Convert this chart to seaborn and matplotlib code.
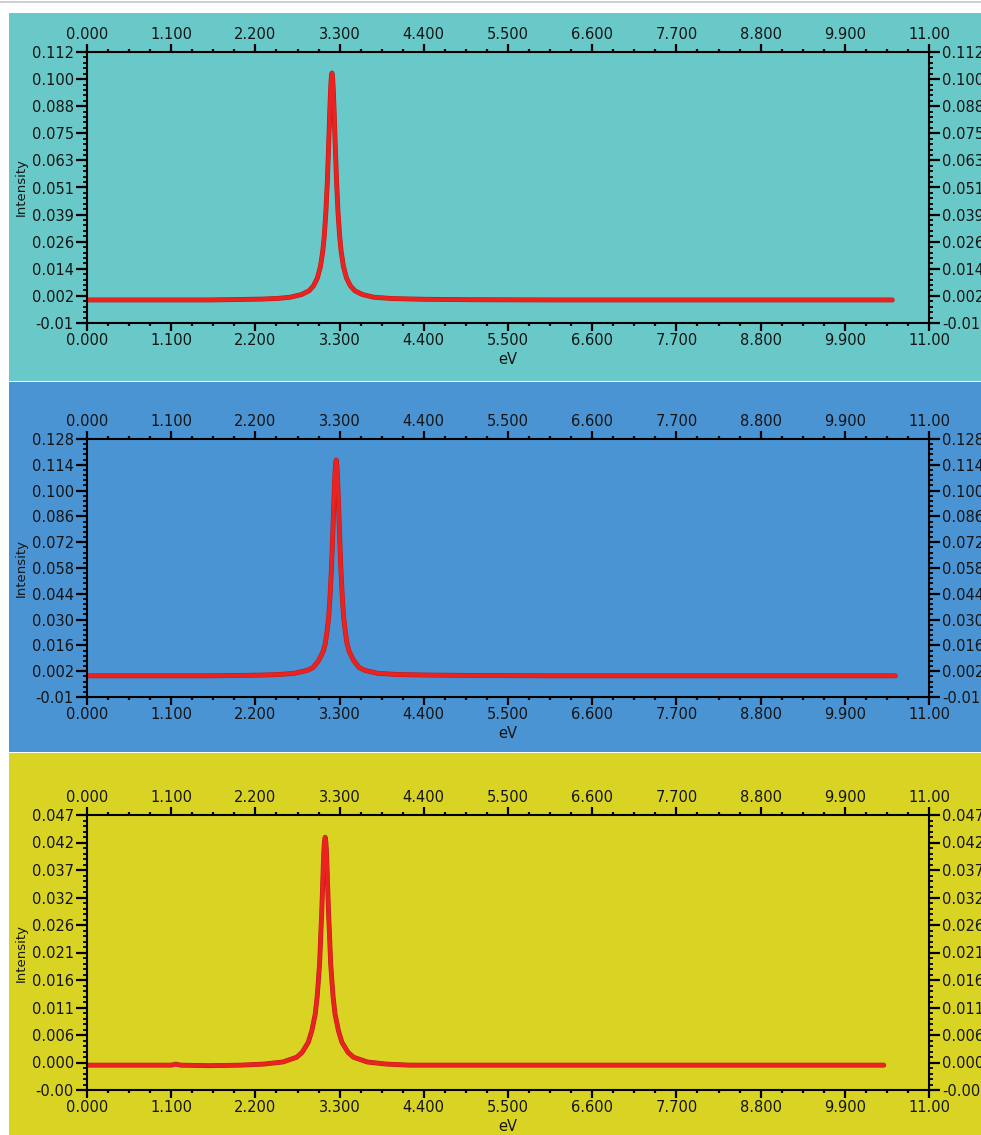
import numpy as np
import pandas as pd
import seaborn as sns
import matplotlib
matplotlib.use("Agg")
import matplotlib.pyplot as plt
from matplotlib.ticker import AutoMinorLocator
from matplotlib.patches import Rectangle
import matplotlib.patheffects as pe

# ---------------- data ----------------
x_tick_values = [0.0, 1.1, 2.2, 3.3, 4.4, 5.5, 6.6, 7.7, 8.8, 9.9, 11.0]
x_tick_labels = ["0.000", "1.100", "2.200", "3.300", "4.400", "5.500",
                 "6.600", "7.700", "8.800", "9.900", "11.00"]

# panel 1 (cyan)
ev1 = [0.00, 0.40, 0.80, 1.20, 1.60, 2.00, 2.30, 2.50, 2.65, 2.80, 2.90, 2.96,
       3.01, 3.05, 3.08, 3.10, 3.12, 3.14, 3.156, 3.17, 3.18, 3.19, 3.20, 3.21,
       3.22, 3.23, 3.244, 3.26, 3.28, 3.30, 3.32, 3.35, 3.39, 3.44, 3.50, 3.60,
       3.75, 4.00, 4.40, 5.00, 6.00, 7.00, 8.00, 9.00, 10.00, 10.52]
int1 = [0.0002, 0.0002, 0.0002, 0.0002, 0.0002, 0.0004, 0.0006, 0.0009, 0.0014,
        0.0026, 0.0043, 0.0066, 0.0101, 0.0153, 0.0221, 0.0292, 0.0394, 0.0538,
        0.0690, 0.0836, 0.0931, 0.1000, 0.1025, 0.1000, 0.0931, 0.0836, 0.0690,
        0.0538, 0.0394, 0.0292, 0.0221, 0.0153, 0.0101, 0.0066, 0.0043, 0.0026,
        0.0014, 0.0008, 0.0005, 0.0003, 0.0002, 0.0002, 0.0002, 0.0002, 0.0002,
        0.0002]
y_labels1 = ["0.112", "0.100", "0.088", "0.075", "0.063", "0.051", "0.039",
             "0.026", "0.014", "0.002", "-0.01"]

# panel 2 (blue)
ev2 = [0.00, 0.40, 0.80, 1.20, 1.60, 2.00, 2.30, 2.50, 2.70, 2.875, 2.955, 3.025,
       3.085, 3.113, 3.135, 3.157, 3.175, 3.195, 3.211, 3.225, 3.235, 3.245, 3.255,
       3.265, 3.275, 3.285, 3.299, 3.315, 3.335, 3.353, 3.375, 3.397, 3.425, 3.485,
       3.555, 3.635, 3.805, 4.055, 4.455, 5.00, 6.00, 7.00, 8.00, 9.00, 10.00, 10.56]
int2 = [-0.0005, -0.0005, -0.0005, -0.0005, -0.0005, -0.0003, -0.0001, 0.0002,
        0.0008, 0.0024, 0.0040, 0.0077, 0.0127, 0.0170, 0.0233, 0.0311, 0.0425,
        0.0590, 0.0769, 0.0938, 0.1052, 0.1135, 0.1166, 0.1135, 0.1052, 0.0938,
        0.0769, 0.0590, 0.0425, 0.0311, 0.0233, 0.0170, 0.0127, 0.0077, 0.0040,
        0.0024, 0.0008, 0.0002, -0.0001, -0.0003, -0.0005, -0.0005, -0.0005,
        -0.0005, -0.0005, -0.0005]
y_labels2 = ["0.128", "0.114", "0.100", "0.086", "0.072", "0.058", "0.044",
             "0.030", "0.016", "0.002", "-0.01"]

# panel 3 (yellow)
ev3 = [0.00, 0.40, 0.80, 1.10, 1.16, 1.22, 1.60, 2.01, 2.31, 2.56, 2.74, 2.81,
       2.89, 2.937, 2.981, 3.006, 3.021, 3.039, 3.051, 3.067, 3.081, 3.091, 3.101,
       3.111, 3.121, 3.131, 3.141, 3.155, 3.171, 3.183, 3.201, 3.216, 3.241, 3.285,
       3.331, 3.411, 3.481, 3.661, 3.911, 4.21, 5.00, 6.00, 7.00, 8.00, 9.00, 10.41]
int3 = [-0.0001, -0.0001, -0.0001, -0.0001, 0.0001, -0.0001, -0.0002, -0.0001,
        0.0001, 0.0005, 0.0014, 0.0023, 0.0042, 0.0064, 0.0095, 0.0127, 0.0155,
        0.0192, 0.0235, 0.0290, 0.0350, 0.0395, 0.0420, 0.0430, 0.0420, 0.0395,
        0.0350, 0.0290, 0.0235, 0.0192, 0.0155, 0.0127, 0.0095, 0.0064, 0.0042,
        0.0023, 0.0014, 0.0005, 0.0001, -0.0001, -0.0001, -0.0001, -0.0001,
        -0.0001, -0.0001, -0.0001]
y_labels3 = ["0.047", "0.042", "0.037", "0.032", "0.026", "0.021", "0.016",
             "0.011", "0.006", "0.000", "-0.00"]

# ---------------- layout / style ----------------
W, H = 981, 1135
fig = plt.figure(figsize=(W / 100, H / 100), dpi=100)
fig.patch.set_facecolor("white")


def fx(px):
    return px / W


def fy(py):
    return 1 - py / H


def bg_rect(x0, y0, x1, y1, color):
    fig.add_artist(Rectangle((fx(x0), fy(y1)), fx(x1) - fx(x0), fy(y0) - fy(y1),
                             transform=fig.transFigure, facecolor=color,
                             edgecolor="none", zorder=-5))


bg_rect(0, 1, W, 2.6, "#cfcfcf")

panels = [
    dict(ev=ev1, it=int1, labels=y_labels1, ylim=(-0.0102, 0.112), bg="#68c9c8",
         bg_box=(9, 13, W, 381.2), ax_box=(87, 52, 929, 323)),
    dict(ev=ev2, it=int2, labels=y_labels2, ylim=(-0.012, 0.128), bg="#4a94d4",
         bg_box=(9, 382, W, 752), ax_box=(87, 439, 929, 697)),
    dict(ev=ev3, it=int3, labels=y_labels3, ylim=(-0.0048, 0.0472), bg="#d9d423",
         bg_box=(9, 753.2, W, H), ax_box=(87, 815, 929, 1090)),
]

text_color = "#141414"
line_color = "#ea2320"

for p in panels:
    bg_rect(*p["bg_box"], p["bg"])
    x0, y0, x1, y1 = p["ax_box"]
    ax = fig.add_axes([fx(x0), fy(y1), fx(x1) - fx(x0), fy(y0) - fy(y1)])
    ax.set_facecolor(p["bg"])

    df = pd.DataFrame({"eV": p["ev"], "Intensity": p["it"]})
    sns.lineplot(data=df, x="eV", y="Intensity", ax=ax, color=line_color,
                 linewidth=2.8, sort=False, estimator=None)
    for ln in ax.lines:
        ln.set_path_effects([pe.Stroke(linewidth=3.5, foreground="#b51a1a"),
                             pe.Normal()])
        ln.set_solid_capstyle("round")

    ax.set_xlim(0, 11)
    ax.set_xticks(x_tick_values)
    ax.set_xticklabels(x_tick_labels)
    ax.xaxis.set_minor_locator(AutoMinorLocator(4))

    ymin, ymax = p["ylim"]
    ax.set_ylim(ymin, ymax)
    ax.set_yticks(np.linspace(ymin, ymax, 11))
    ax.set_yticklabels(list(reversed(p["labels"])))
    ax.yaxis.set_minor_locator(AutoMinorLocator(5))

    ax.tick_params(which="both", direction="out", top=True, right=True,
                   labeltop=True, labelright=True, colors="black",
                   labelcolor=text_color, labelsize=10.5)
    ax.tick_params(axis="x", which="major", length=6, width=1.6, pad=1.5)
    ax.tick_params(axis="x", which="minor", length=2.5, width=1.6)
    ax.tick_params(axis="y", which="major", length=8, width=1.6, pad=1.5)
    ax.tick_params(axis="y", which="minor", length=3, width=1.3)
    for s in ax.spines.values():
        s.set_color("black")
        s.set_linewidth(1.5)
        s.set_visible(True)

    h_px = y1 - y0
    w_px = x1 - x0
    ax.set_xlabel("eV", fontsize=10.5, color=text_color)
    ax.xaxis.set_label_coords(0.5, -29 / h_px)
    ax.set_ylabel("Intensity", fontsize=9.5, color=text_color)
    ax.yaxis.set_label_coords((28 - x0) / w_px, 0.5)

fig.savefig("out.png", dpi=100, facecolor=fig.get_facecolor())
